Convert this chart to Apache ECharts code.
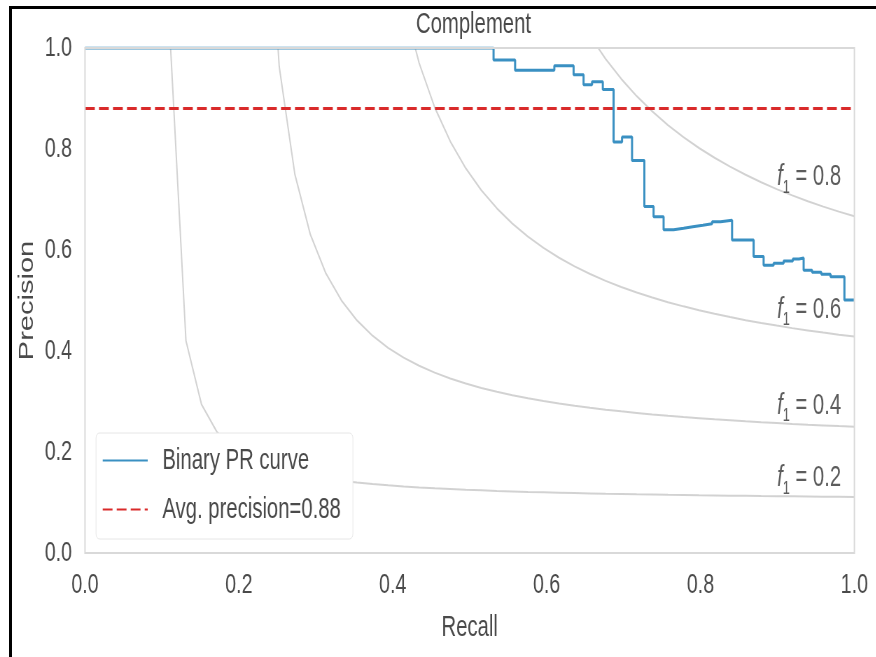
<!DOCTYPE html>
<html>
<head>
<meta charset="utf-8">
<script src="https://cdn.jsdelivr.net/npm/echarts@6/dist/echarts.min.js"></script>
<style>
  html, body { margin: 0; padding: 0; background: #fff; overflow: hidden; width: 876px; height: 657px; }
  #frame { position: absolute; left: 9px; top: 6px; right: 0; bottom: 0; border-top: 3px solid #000; border-left: 3px solid #000; pointer-events: none; z-index: 2; }
  /* the reference is squeezed sideways, so the chart is drawn wide and narrowed */
  #chart { position: absolute; left: 0; top: 0; width: 1252px; height: 657px; transform: scaleX(0.7); transform-origin: 0 0; }
</style>
</head>
<body>
<div id="chart"></div>
<div id="frame"></div>
<script>
// tick labels of both axes
var tickLabels = ['0.0', '0.2', '0.4', '0.6', '0.8', '1.0'];

// binary PR curve (step points, value holds until next recall)
var prRecall = [0.000, 0.531, 0.559, 0.610, 0.635, 0.648, 0.659, 0.673, 0.687, 0.698,
  0.711, 0.727, 0.739, 0.752, 0.765, 0.778, 0.790, 0.803, 0.815, 0.826,
  0.841, 0.869, 0.882, 0.895, 0.908, 0.920, 0.928, 0.934, 0.945, 0.957,
  0.969, 0.987, 1.000];
var prPrecision = [1.000, 0.976, 0.956, 0.965, 0.947, 0.927, 0.933, 0.918, 0.814, 0.824,
  0.777, 0.686, 0.666, 0.640, 0.643, 0.646, 0.649, 0.652, 0.656, 0.659,
  0.620, 0.587, 0.570, 0.574, 0.578, 0.582, 0.584, 0.560, 0.556, 0.552,
  0.547, 0.501, 0.501];

var avgPrecision = 0.88;

// recall samples of the iso-f1 curves
var isoRecall = [0.0100, 0.0302, 0.0504, 0.0706, 0.0908, 0.1110, 0.1312, 0.1514, 0.1716, 0.1918,
  0.2120, 0.2322, 0.2524, 0.2727, 0.2929, 0.3131, 0.3333, 0.3535, 0.3737, 0.3939,
  0.4141, 0.4343, 0.4545, 0.4747, 0.4949, 0.5151, 0.5353, 0.5555, 0.5757, 0.5959,
  0.6161, 0.6363, 0.6565, 0.6767, 0.6969, 0.7171, 0.7373, 0.7576, 0.7778, 0.7980,
  0.8182, 0.8384, 0.8586, 0.8788, 0.8990, 0.9192, 0.9394, 0.9596, 0.9798, 1.0000];

// precision of each iso curve, for the last samples of isoRecall
var iso02 = [1.0074, 0.4203, 0.2944, 0.2396, 0.2089, 0.1893, 0.1756, 0.1656, 0.1579, 0.1519,
  0.1469, 0.1429, 0.1395, 0.1365, 0.1340, 0.1318, 0.1299, 0.1282, 0.1267, 0.1253,
  0.1241, 0.1230, 0.1220, 0.1210, 0.1202, 0.1194, 0.1187, 0.1180, 0.1173, 0.1168,
  0.1162, 0.1157, 0.1152, 0.1148, 0.1143, 0.1139, 0.1135, 0.1132, 0.1128, 0.1125,
  0.1122, 0.1119, 0.1116, 0.1114, 0.1111];
var iso04 = [1.442, 0.9634, 0.7502, 0.6306, 0.5537, 0.5001, 0.4606, 0.4303, 0.4063, 0.3868,
  0.3707, 0.3572, 0.3456, 0.3356, 0.3269, 0.3193, 0.3125, 0.3065, 0.3010, 0.2961,
  0.2917, 0.2876, 0.2839, 0.2805, 0.2774, 0.2744, 0.2717, 0.2692, 0.2669, 0.2647,
  0.2627, 0.2607, 0.2589, 0.2572, 0.2556, 0.2541, 0.2527, 0.2513, 0.2500];
var iso06 = [1.0888, 0.9701, 0.8825, 0.8152, 0.7618, 0.7184, 0.6825, 0.6523, 0.6264, 0.6042,
  0.5847, 0.5676, 0.5525, 0.5389, 0.5268, 0.5158, 0.5058, 0.4967, 0.4884, 0.4807,
  0.4737, 0.4672, 0.4611, 0.4555, 0.4503, 0.4453, 0.4408, 0.4364, 0.4324, 0.4286];
var iso08 = [1.0238, 0.9782, 0.9389, 0.9046, 0.8744, 0.8474, 0.8235, 0.8020, 0.7826, 0.7650,
  0.7489, 0.7342, 0.7206, 0.7082, 0.6966, 0.6859, 0.6760, 0.6667];

var isoNames = ['0.2', '0.4', '0.6', '0.8'];
var isoLabelX = 0.9;
var isoLabelY = [0.1322, 0.2756, 0.4653, 0.7282];

var S = 0.7; // horizontal squeeze of the page
var chart = echarts.init(document.getElementById('chart'));

function zip(xs, ys) {
  var off = xs.length - ys.length;
  return ys.map(function (y, i) { return [xs[i + off], y]; });
}

var textFont = '"Liberation Sans", Arial, sans-serif';
var textColor = '#4a4a4a';

var isoSeries = [iso02, iso04, iso06, iso08].map(function (arr) {
  return {
    type: 'line',
    data: zip(isoRecall, arr),
    symbol: 'none',
    silent: true,
    lineStyle: { color: 'rgba(51,51,51,0.22)', width: 2 },
    z: 1
  };
});

var labelSeries = {
  type: 'scatter',
  symbolSize: 1,
  itemStyle: { color: 'transparent' },
  silent: true,
  data: isoLabelY.map(function (y, i) { return { value: [isoLabelX, y], name: isoNames[i] }; }),
  label: {
    show: true,
    position: [0, 0],
    offset: [0, 12],
    align: 'left',
    verticalAlign: 'bottom',
    formatter: function (p) { return '{f|f}{s|1}{t| = ' + p.name + '}'; },
    rich: {
      f: { fontSize: 29, fontStyle: 'italic', color: '#333', fontFamily: textFont, lineHeight: 30, verticalAlign: 'top' },
      s: { fontSize: 18, color: '#333', fontFamily: textFont, lineHeight: 34, verticalAlign: 'bottom' },
      t: { fontSize: 29, color: '#333', fontFamily: textFont, lineHeight: 30, verticalAlign: 'top' }
    }
  },
  z: 3
};

var option = {
  animation: false,
  textStyle: { fontFamily: textFont, color: textColor },
  title: {
    text: 'Complement',
    left: 470 / S,
    textAlign: 'center',
    top: 5,
    textStyle: { fontSize: 29, fontWeight: 'normal', color: textColor, fontFamily: textFont }
  },
  grid: {
    left: 85 / S, top: 48, right: 22 / S, bottom: 104,
    show: true, borderColor: '#d9d9d9', borderWidth: 2, backgroundColor: 'transparent', z: 10
  },
  legend: {
    orient: 'vertical',
    left: 96 / S, top: 433,
    data: ['Binary PR curve', 'Avg. precision=0.88'],
    itemWidth: 45 / S, itemHeight: 14, itemGap: 20,
    itemStyle: { opacity: 0 },
    padding: [13, 12 / S, 15, 6 / S],
    borderColor: '#e6e6e6', borderWidth: 1, borderRadius: 5,
    backgroundColor: '#fff',
    textStyle: { fontSize: 29, color: textColor, fontFamily: textFont, padding: [0, 0, 0, 16] }
  },
  xAxis: {
    type: 'value', min: 0, max: 1, interval: 0.2,
    name: 'Recall', nameLocation: 'middle', nameGap: 60,
    nameTextStyle: { fontSize: 29, color: textColor, fontFamily: textFont },
    axisLine: { show: false }, axisTick: { show: false }, splitLine: { show: false },
    axisLabel: {
      margin: 18, fontSize: 28, color: textColor, fontFamily: textFont,
      formatter: function (v) { return tickLabels[Math.round(v / 0.2)]; }
    }
  },
  yAxis: {
    type: 'value', min: 0, max: 1, interval: 0.2,
    name: 'Precision', nameLocation: 'middle', nameGap: 64,
    nameTextStyle: { fontSize: 29, color: textColor, fontFamily: textFont },
    axisLine: { show: false }, axisTick: { show: false }, splitLine: { show: false },
    axisLabel: {
      margin: 13 / S, fontSize: 28, color: textColor, fontFamily: textFont,
      formatter: function (v) { return tickLabels[Math.round(v / 0.2)]; }
    }
  },
  series: isoSeries.concat([
    {
      name: 'Binary PR curve',
      type: 'line',
      step: 'end',
      symbol: 'none',
      data: zip(prRecall, prPrecision),
      lineStyle: { color: '#3a90c2', width: 3 },
      itemStyle: { color: '#3a90c2' },
      z: 4
    },
    {
      name: 'Avg. precision=0.88',
      type: 'line',
      symbol: 'none',
      data: [[0, avgPrecision], [1, avgPrecision]],
      lineStyle: { color: '#d92a2a', width: 3, type: [14, 6] },
      itemStyle: { color: '#d92a2a' },
      z: 3
    },
    labelSeries
  ])
};

chart.setOption(option);
</script>
</body>
</html>
